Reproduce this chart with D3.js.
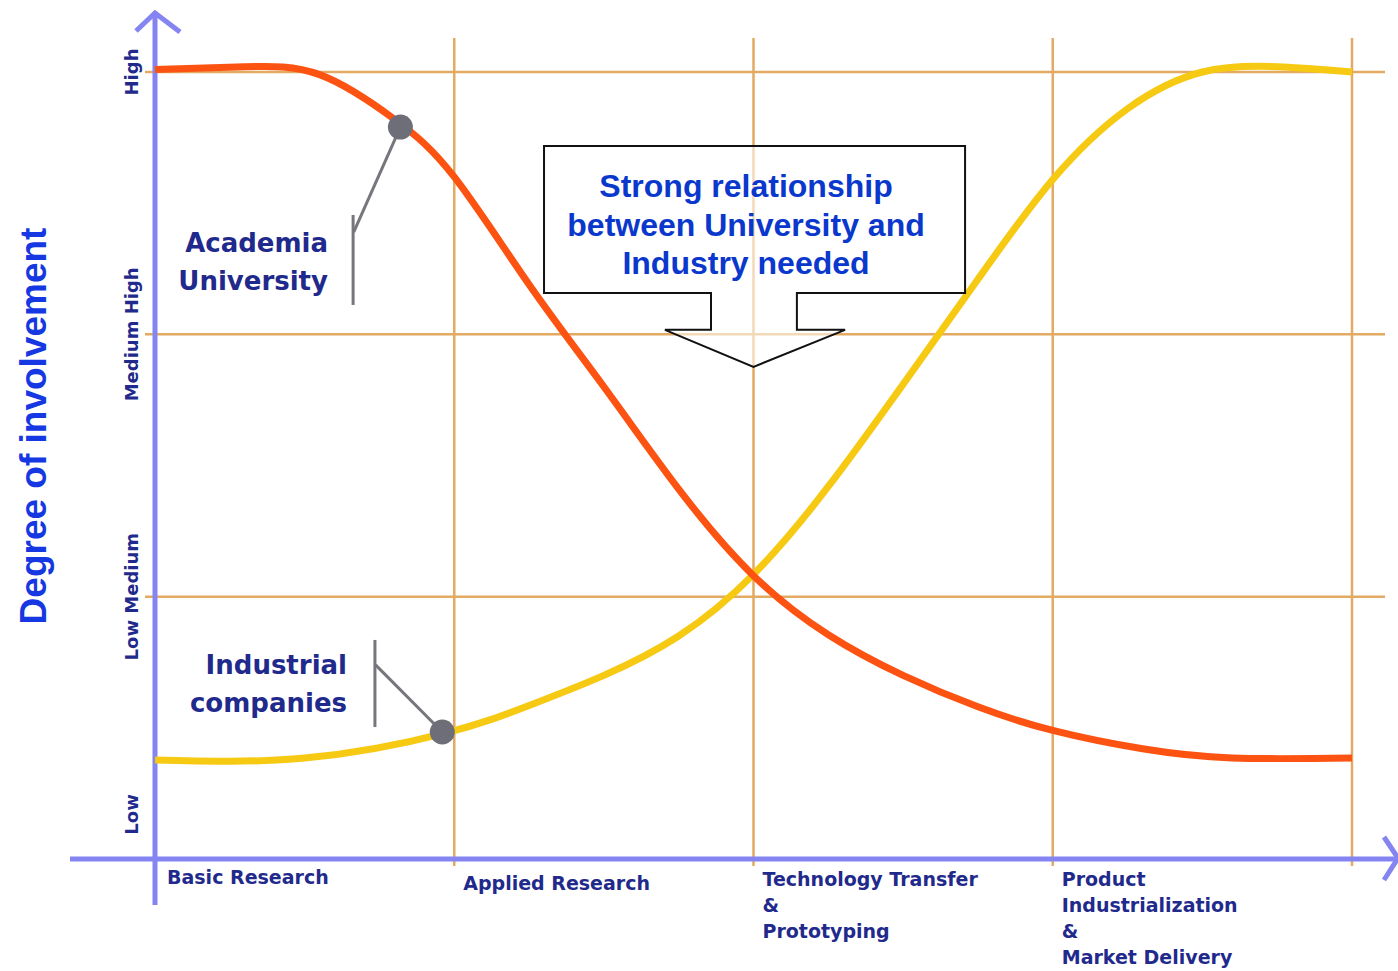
<!DOCTYPE html>
<html><head><meta charset="utf-8">
<script src="https://cdn.jsdelivr.net/npm/d3@7"></script>
<style>html,body{margin:0;padding:0;background:#fff;}svg{display:block;}</style>
</head><body>
<script>
// ---- data ----
const stageLabels = [
  ["Basic Research"],
  ["Applied Research"],
  ["Technology Transfer", "&", "Prototyping"],
  ["Product", "Industrialization", "&", "Market Delivery"]
];
const stageBounds = [0, 1, 2, 3, 4];
const levelLabels = ["Low", "Low Medium", "Medium High", "High"];
const levelLabelValues = [0.17, 1, 2, 3];
const levelGrid = [1, 2, 3];

const academiaX = [0, 0.3, 0.55, 0.8, 1.0, 1.25, 1.5, 1.75, 2.0, 2.25, 2.5, 2.75, 3.0, 3.3, 3.6, 4.0];
const academiaY = [3.01, 3.02, 2.99, 2.82, 2.6, 2.19, 1.8, 1.41, 1.08, 0.855, 0.70, 0.58, 0.49, 0.42, 0.385, 0.385];
const industryX = [0, 0.5, 0.97, 1.25, 1.5, 1.75, 2.0, 2.25, 2.5, 2.75, 3.0, 3.25, 3.5, 3.75, 4.0];
const industryY = [0.377, 0.385, 0.48, 0.585, 0.70, 0.85, 1.085, 1.42, 1.81, 2.21, 2.59, 2.86, 3.0, 3.02, 3.0];

const academiaMarker = [0.82, 2.79];
const industryMarker = [0.96, 0.484];
const calloutLines = ["Strong relationship", "between University and", "Industry needed"];

// ---- layout ----
const W = 1398, H = 971;
const svg = d3.select("body").append("svg").attr("width", W).attr("height", H);
const x = d3.scaleLinear().domain([0, 4]).range([155, 1352]);
const y = d3.scaleLinear().domain([0, 3]).range([859, 72]);

const gridColor = "#e2aa62";
const axisColor = "#8484f2";
const navy = "#1f2a8c";
const labelFont = "'DejaVu Sans', Verdana, sans-serif";

// grid
svg.append("g").selectAll("line").data(levelGrid).join("line")
  .attr("x1", 145).attr("x2", 1385)
  .attr("y1", d => y(d)).attr("y2", d => y(d))
  .attr("stroke", gridColor).attr("stroke-width", 2.5);
svg.append("g").selectAll("line").data(stageBounds.slice(1)).join("line")
  .attr("x1", d => x(d)).attr("x2", d => x(d))
  .attr("y1", 38).attr("y2", 866)
  .attr("stroke", gridColor).attr("stroke-width", 2.5);

// axes
svg.append("line").attr("x1", 155).attr("x2", 155).attr("y1", 12).attr("y2", 905)
  .attr("stroke", axisColor).attr("stroke-width", 5);
svg.append("path").attr("d", "M136,31 L155,13 L180,32").attr("fill", "none")
  .attr("stroke", axisColor).attr("stroke-width", 5);
svg.append("line").attr("x1", 70).attr("x2", 1398).attr("y1", 859).attr("y2", 859)
  .attr("stroke", axisColor).attr("stroke-width", 5);
svg.append("path").attr("d", "M1384,837 L1398,858 L1384,880").attr("fill", "none")
  .attr("stroke", axisColor).attr("stroke-width", 5);

// y level labels
svg.append("g").selectAll("text").data(levelLabels).join("text")
  .attr("transform", (d, i) => `translate(138,${y(levelLabelValues[i])}) rotate(-90)`)
  .attr("text-anchor", "middle")
  .attr("font-family", labelFont).attr("font-weight", "bold").attr("font-size", 18)
  .attr("fill", navy).text(d => d);

// y title
svg.append("text").attr("transform", "translate(46,426) rotate(-90)")
  .attr("text-anchor", "middle")
  .attr("font-family", "'Liberation Sans', Arial, sans-serif").attr("font-weight", "bold")
  .attr("font-size", 37).attr("fill", "#1538e2").text("Degree of involvement");

// stage labels
const sg = svg.append("g");
stageLabels.forEach((lines, i) => {
  const lx = x(stageBounds[i]) + (i === 0 ? 12 : 9);
  const t = sg.append("text")
    .attr("y", i === 1 ? 890 : (i === 0 ? 884 : 886))
    .attr("font-family", labelFont).attr("font-weight", "bold").attr("font-size", 19)
    .attr("fill", navy);
  lines.forEach((l, j) => t.append("tspan").attr("x", lx).attr("dy", j ? 26 : 0).text(l));
});

// curves
const line = d3.line().x(d => x(d[0])).y(d => y(d[1])).curve(d3.curveNatural);
svg.append("path").datum(industryX.map((v, i) => [v, industryY[i]])).attr("d", line)
  .attr("fill", "none").attr("stroke", "#f6c913").attr("stroke-width", 7);
svg.append("path").datum(academiaX.map((v, i) => [v, academiaY[i]])).attr("d", line)
  .attr("fill", "none").attr("stroke", "#fc5312").attr("stroke-width", 7);

// leader lines
const leader = d3.line().x(d => x(d[0])).y(d => y(d[1]));
const grey = "#76767c";
svg.append("path").datum([[0.662, 2.455], [0.662, 2.112]]).attr("d", leader).attr("stroke", grey).attr("stroke-width", 3).attr("fill", "none");
svg.append("path").datum([[0.664, 2.39], academiaMarker]).attr("d", leader).attr("stroke", grey).attr("stroke-width", 3).attr("fill", "none");
svg.append("path").datum([[0.735, 0.835], [0.735, 0.503]]).attr("d", leader).attr("stroke", grey).attr("stroke-width", 3).attr("fill", "none");
svg.append("path").datum([[0.737, 0.74], industryMarker]).attr("d", leader).attr("stroke", grey).attr("stroke-width", 3).attr("fill", "none");
svg.selectAll("circle.m").data([academiaMarker, industryMarker]).join("circle")
  .attr("cx", d => x(d[0])).attr("cy", d => y(d[1])).attr("r", 12.5).attr("fill", "#6e6e78");

// curve labels
const curveLabel = (lines, px, py) => {
  const t = svg.append("text").attr("font-family", labelFont).attr("font-weight", "bold")
    .attr("font-size", 26).attr("fill", navy).attr("text-anchor", "end");
  lines.forEach((l, j) => t.append("tspan").attr("x", px).attr("y", py + j * 37.5).text(l));
};
curveLabel(["Academia", "University"], 328, 252);
curveLabel(["Industrial", "companies"], 347, 674);

// callout
const cx0 = x(1.3), cx1 = x(2.707), cy0 = y(2.718), cy1 = y(2.158);
const sx0 = x(1.858), sx1 = x(2.145), sy = y(2.017), wx0 = x(1.704), wx1 = x(2.306), tip = y(1.876), tx = x(2.0);
svg.append("path")
  .attr("d", `M${cx0},${cy0} L${cx1},${cy0} L${cx1},${cy1} L${sx1},${cy1} L${sx1},${sy} L${wx1},${sy} L${tx},${tip} L${wx0},${sy} L${sx0},${sy} L${sx0},${cy1} L${cx0},${cy1} Z`)
  .attr("fill", "rgba(255,255,255,0.55)").attr("stroke", "#111").attr("stroke-width", 2);
const ct = svg.append("text").attr("text-anchor", "middle")
  .attr("font-family", "'Liberation Sans', Arial, sans-serif").attr("font-weight", "bold")
  .attr("font-size", 32).attr("fill", "#0a38cc");
calloutLines.forEach((l, j) => ct.append("tspan").attr("x", 746).attr("y", 197 + j * 38.5).text(l));
</script>
</body></html>
